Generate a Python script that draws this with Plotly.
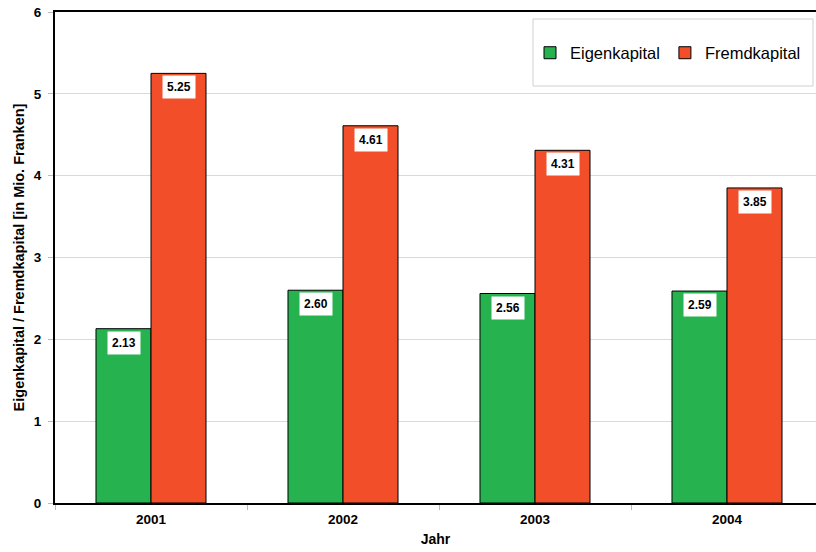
import plotly.graph_objects as go

years = ["2001", "2002", "2003", "2004"]
eigenkapital = [2.13, 2.60, 2.56, 2.59]
fremdkapital = [5.25, 4.61, 4.31, 3.85]
series_names = ["Eigenkapital", "Fremdkapital"]
colors = ["#25B24F", "#F14E29"]
y_ticks = [0, 1, 2, 3, 4, 5, 6]

FONT = "Arial, Liberation Sans, sans-serif"
bargap = 0.427

fig = go.Figure()
for name, vals, col in zip(series_names, [eigenkapital, fremdkapital], colors):
    fig.add_trace(go.Bar(
        x=years, y=vals, name=name,
        marker=dict(color=col, line=dict(color="black", width=1)),
    ))

half = (1 - bargap) / 4
annotations = []
for k, vals in enumerate([eigenkapital, fremdkapital]):
    off = -half if k == 0 else half
    for i, v in enumerate(vals):
        annotations.append(dict(
            x=i + off, y=v, xref="x", yref="y",
            text=f"<b>{v:.2f}</b>", showarrow=False,
            yanchor="top", yshift=-2,
            font=dict(family=FONT, size=12, color="black"),
            bgcolor="white", borderpad=4,
        ))

W, H = 816, 552
ml, mr, mt, mb = 55, 0, 12, 49
plot_w = W - ml - mr
plot_h = H - mt - mb
cat_px = 192
x_end = -0.5 + plot_w / cat_px

# legend frame
lx0, lx1, ly0, ly1 = 533, 813, 19, 86
fig.add_shape(type="rect", xref="paper", yref="paper",
              x0=(lx0 - ml) / plot_w, x1=(lx1 - ml) / plot_w,
              y0=(H - mb - ly1) / plot_h, y1=(H - mb - ly0) / plot_h,
              line=dict(color="#D0D0D0", width=1), fillcolor="white", layer="below")

fig.update_layout(
    width=W, height=H,
    margin=dict(l=ml, r=mr, t=mt, b=mb),
    paper_bgcolor="white", plot_bgcolor="rgba(0,0,0,0)",
    barmode="group", bargap=bargap, bargroupgap=0,
    font=dict(family=FONT, color="black"),
    showlegend=True,
    legend=dict(
        orientation="h", x=(530 - ml) / plot_w, xanchor="left",
        y=(H - mb - 53) / plot_h, yanchor="middle",
        bgcolor="rgba(0,0,0,0)", font=dict(family=FONT, size=16.5, color="black"),
        itemwidth=30, tracegroupgap=0,
    ),
    annotations=annotations,
    xaxis=dict(
        range=[-0.5, x_end], showline=True, linecolor="black", linewidth=2, mirror=True,
        ticks="outside", tickson="boundaries", ticklen=5, tickcolor="#BBBBBB",
        ticklabelstandoff=3,
        tickfont=dict(family=FONT, size=13.5, color="black", weight="bold"),
        title=dict(text="<b>Jahr</b>", font=dict(family=FONT, size=14), standoff=8),
        showgrid=False, fixedrange=True,
    ),
    yaxis=dict(
        range=[0, 6], tickvals=y_ticks, showline=True, linecolor="black", linewidth=2,
        ticks="outside", ticklen=5, tickcolor="#BBBBBB",
        ticklabelstandoff=4,
        tickfont=dict(family=FONT, size=13.5, color="black", weight="bold"),
        gridcolor="#D9D9D9", gridwidth=1, zeroline=False,
        title=dict(text="<b>Eigenkapital / Fremdkapital [in Mio. Franken]</b>",
                   font=dict(family=FONT, size=14.5), standoff=6),
        fixedrange=True,
    ),
)

fig.write_html("out.html")
